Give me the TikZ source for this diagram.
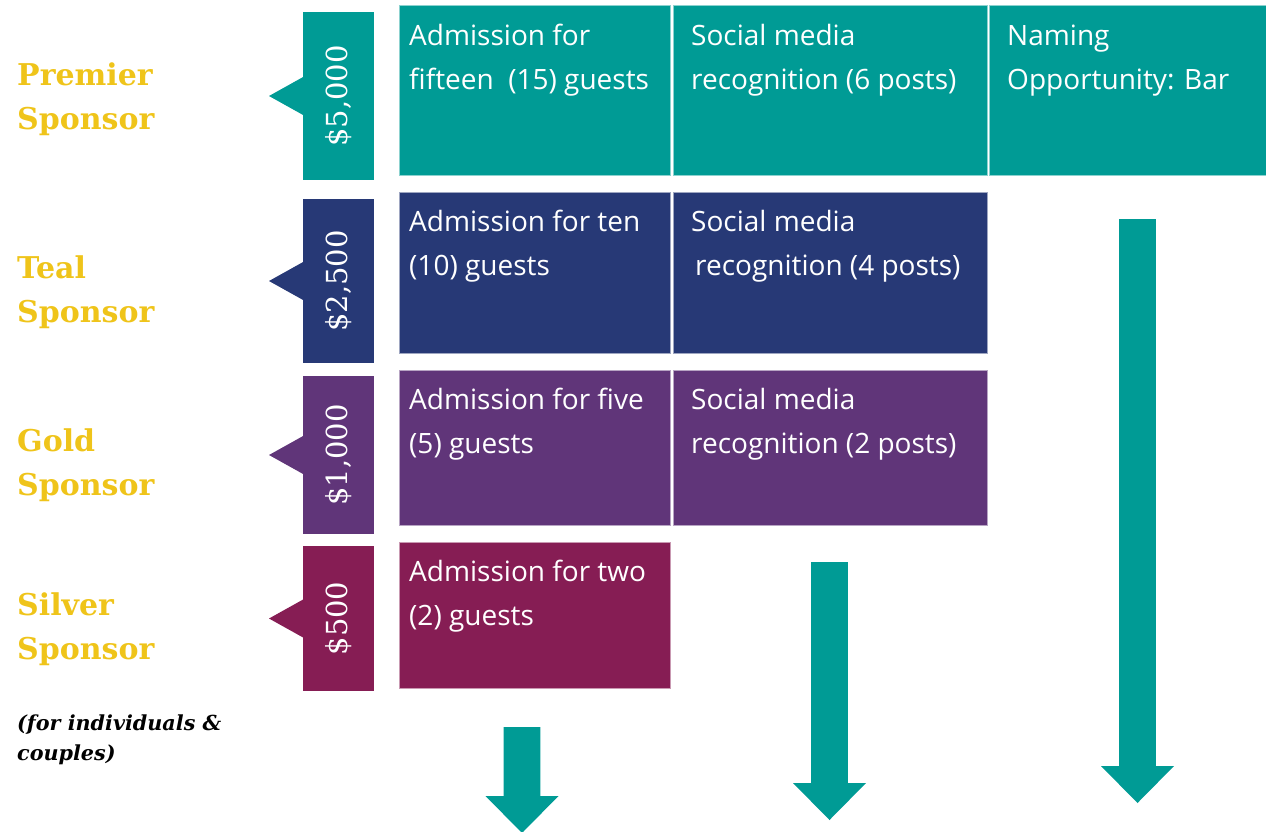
\documentclass[tikz,border=0pt]{standalone}
\usepackage{fontspec}
\setmainfont{DejaVu Serif}
\newfontfamily\cellfont{Open Sans}

\definecolor{premiercol}{RGB}{0,155,149}
\definecolor{tealcol}{RGB}{39,57,118}
\definecolor{goldcol}{RGB}{96,53,121}
\definecolor{silvercol}{RGB}{134,29,84}
\definecolor{labelgold}{RGB}{239,196,26}

\tikzstyle{pricetag} = [fill=#1, rotate=90, minimum height=71pt, inner sep=0pt, outer sep=0pt, text=white, font=\fontsize{29}{29}\selectfont]
\tikzstyle{cellbox} = [fill=#1, draw=#1!45!white, line width=0.8pt, anchor=north west, inner sep=0pt, outer sep=0pt]
\tikzstyle{celltext} = [anchor=north west, inner sep=0pt, align=left, text=white, font=\cellfont\fontsize{28}{44}\selectfont]
\tikzstyle{sponsor} = [anchor=north west, inner sep=0pt, align=left, text=labelgold, font=\bfseries\fontsize{30}{44}\selectfont]
\tikzstyle{note} = [anchor=north west, inner sep=0pt, align=left, font=\bfseries\itshape\fontsize{20.7}{30}\selectfont]

\newcommand{\fatarrow}[4]{%
  \fill[premiercol] (#1-18.3,#2) -- (#1+18.3,#2) -- (#1+18.3,#3) -- (#1+36.5,#3)
    -- (#1,#4) -- (#1-36.5,#3) -- (#1-18.3,#3) -- cycle;}

\begin{document}
\begin{tikzpicture}[x=1pt, y=-1pt]
\useasboundingbox (0,0) rectangle (1266,831);

% sponsor levels
\node[sponsor] (premier) at (17,54) {\strut Premier\\Sponsor};
\node[sponsor] (teal) at (17,247) {\strut Teal\\Sponsor};
\node[sponsor] (gold) at (17,420) {\strut Gold\\Sponsor};
\node[sponsor] (silver) at (17,584) {\strut Silver\\Sponsor};
\node[note] (couples) at (17,709) {\strut(for individuals \&\\couples)};

% price tags
\node[pricetag=premiercol, minimum width=168pt] (tag1) at (338.5,96) {\$5,000};
\node[pricetag=tealcol, minimum width=164pt] (tag2) at (338.5,281) {\$2,500};
\node[pricetag=goldcol, minimum width=158pt] (tag3) at (338.5,455) {\$1,000};
\node[pricetag=silvercol, minimum width=145pt] (tag4) at (338.5,618.5) {\$500};
\foreach \t/\c in {tag1/premiercol, tag2/tealcol, tag3/goldcol, tag4/silvercol}
  \fill[\c] (\t.north) ++(1,-19.5) -- ++(-35,19.5) -- ++(35,19.5) -- cycle;

% benefit cells
\node[cellbox=premiercol, minimum width=271pt, minimum height=170pt] (c11) at (399,5) {};
\node[cellbox=premiercol, minimum width=314pt, minimum height=170pt] (c12) at (673,5) {};
\node[cellbox=premiercol, minimum width=280pt, minimum height=170pt] (c13) at (989,5) {};
\node[cellbox=tealcol, minimum width=271pt, minimum height=161pt] (c21) at (399,192) {};
\node[cellbox=tealcol, minimum width=314pt, minimum height=161pt] (c22) at (673,192) {};
\node[cellbox=goldcol, minimum width=271pt, minimum height=155pt] (c31) at (399,370) {};
\node[cellbox=goldcol, minimum width=314pt, minimum height=155pt] (c32) at (673,370) {};
\node[cellbox=silvercol, minimum width=271pt, minimum height=146pt] (c41) at (399,542) {};

\node[celltext] at ([shift={(10,9.5)}]c11.north west) {\strut Admission for\\fifteen\ \ (15) guests};
\node[celltext] at ([shift={(18,9.5)}]c12.north west) {\strut Social media\\recognition (6 posts)};
\node[celltext] at ([shift={(18,9.5)}]c13.north west) {\strut Naming\\Opportunity: Bar};
\node[celltext] at ([shift={(10,8.5)}]c21.north west) {\strut Admission for ten\\(10) guests};
\node[celltext] at ([shift={(18,8.5)}]c22.north west) {\strut Social media\\\hspace{4pt}recognition (4 posts)};
\node[celltext] at ([shift={(10,8.5)}]c31.north west) {\strut Admission for five\\(5) guests};
\node[celltext] at ([shift={(18,8.5)}]c32.north west) {\strut Social media\\recognition (2 posts)};
\node[celltext] at ([shift={(10,8.5)}]c41.north west) {\strut Admission for two\\(2) guests};

% arrows
\fatarrow{522}{727}{796}{833}
\fatarrow{829.5}{562}{783}{820}
\fatarrow{1137.5}{219}{766}{803}
\end{tikzpicture}
\end{document}
